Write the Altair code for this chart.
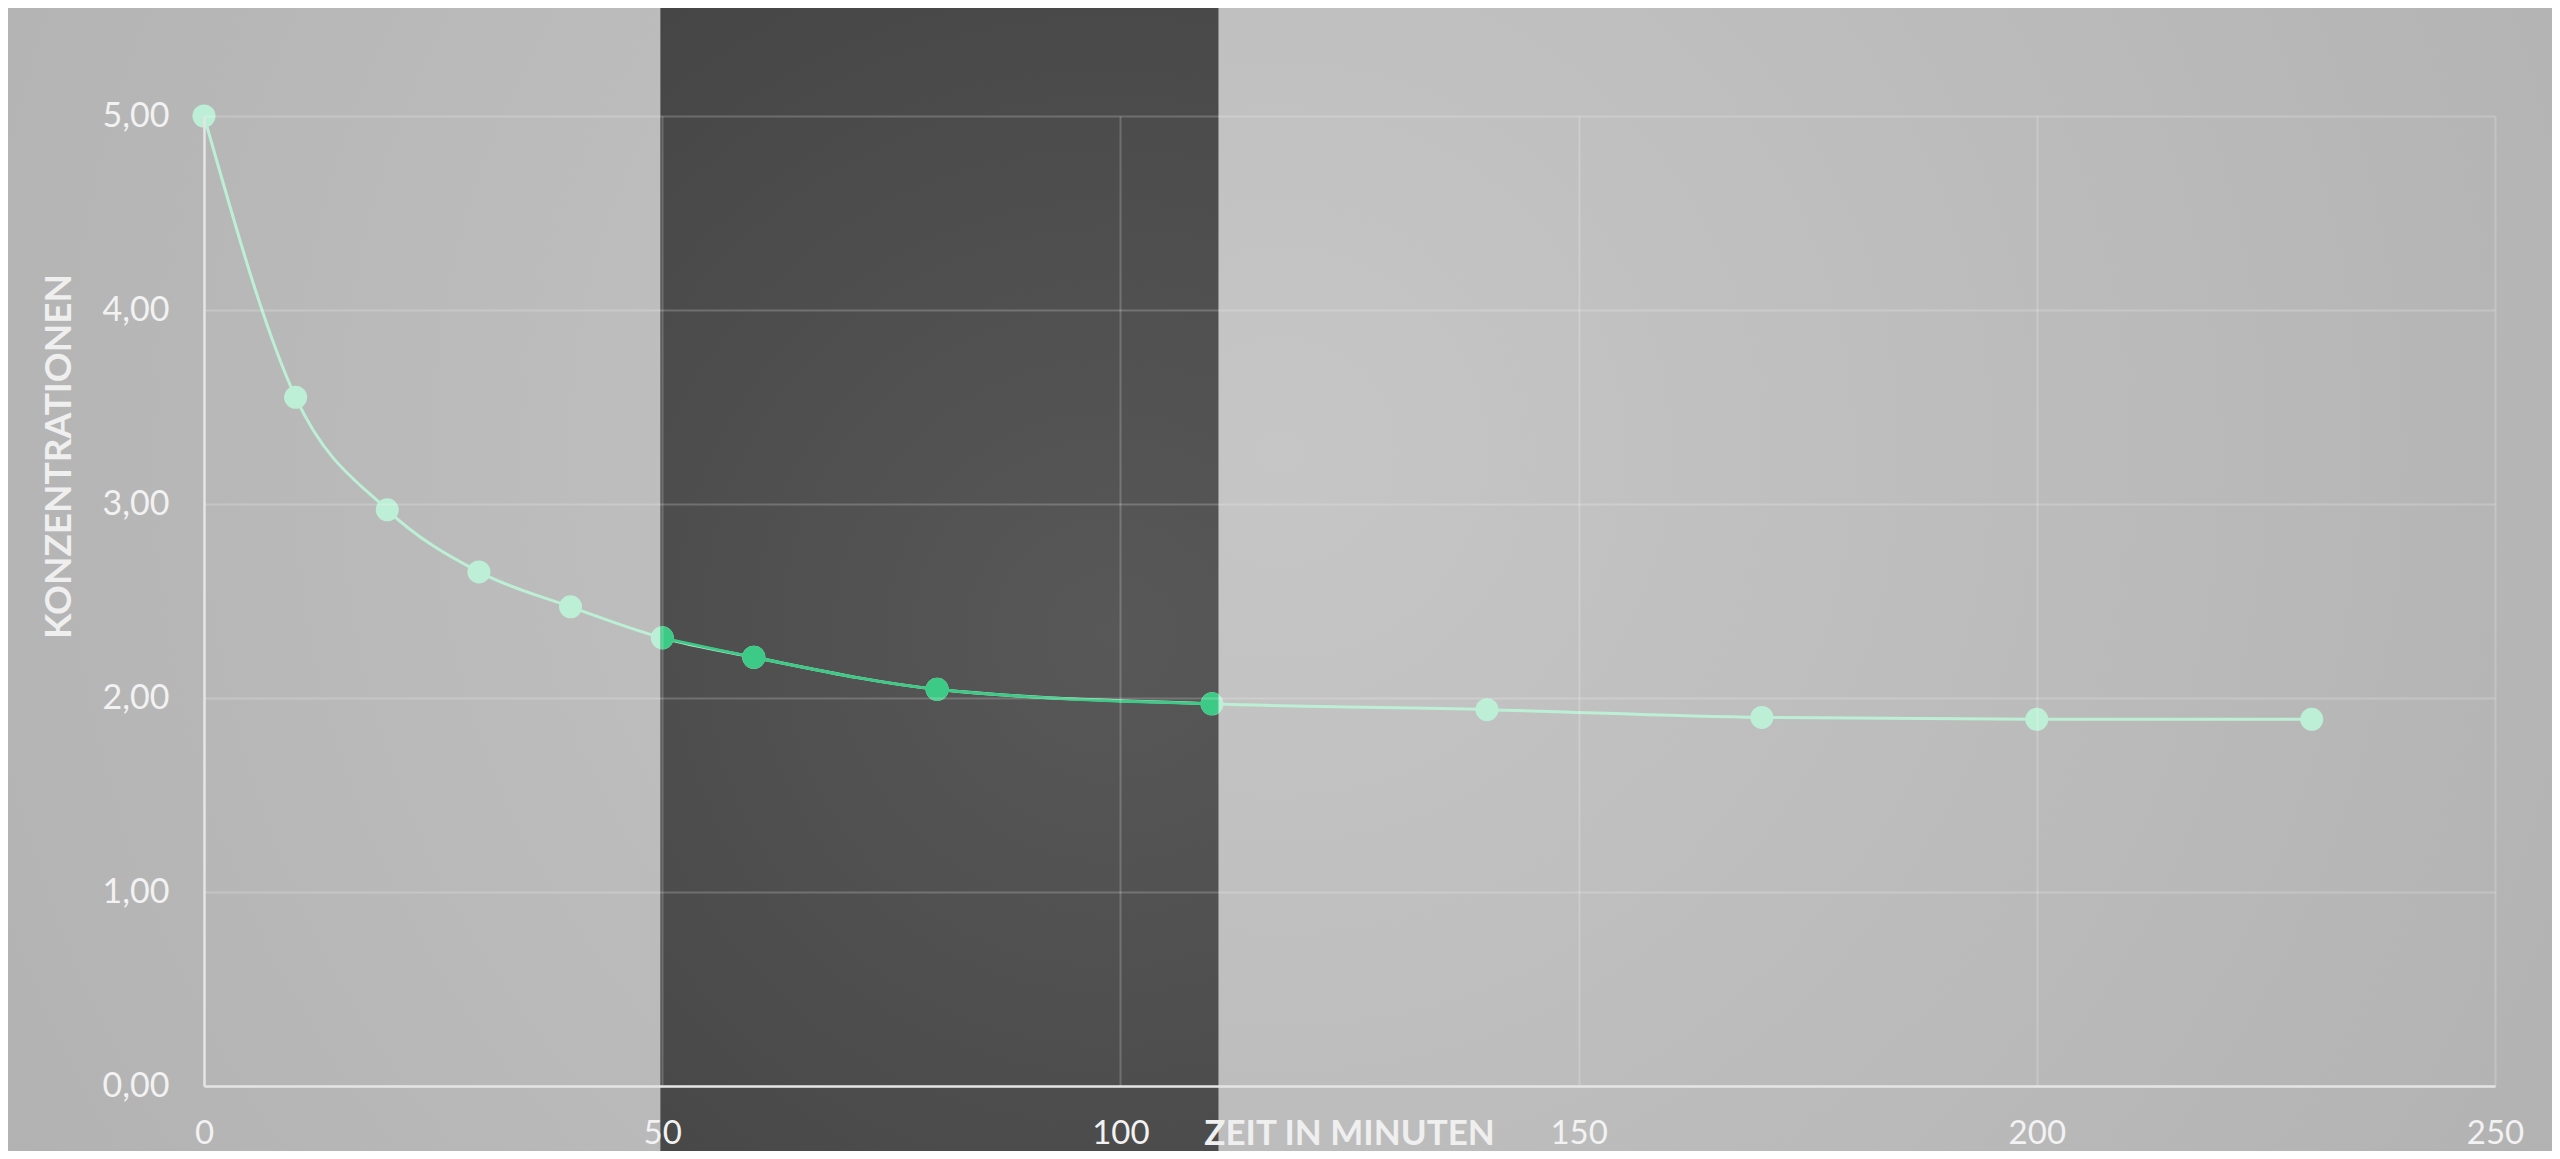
import altair as alt
import pandas as pd

# ---- data ----
times = [0, 10, 20, 30, 40, 50, 60, 80, 110, 140, 170, 200, 230]
conc = [5.00, 3.55, 2.97, 2.65, 2.47, 2.31, 2.21, 2.045, 1.97, 1.94, 1.90, 1.89, 1.89]
band_start, band_end = 49.8, 110.7
x_ticks = [0, 50, 100, 150, 200, 250]
y_ticks = [0, 1, 2, 3, 4, 5]
x_title = "ZEIT IN MINUTEN"
y_title = "KONZENTRATIONEN"

df = pd.DataFrame({"t": times, "c": conc})
band_df = pd.DataFrame({"t": [band_start], "t2": [band_end]})

W, H = 2291, 970
PL, PT, PR, PB = 196, 108, 57, 65

FONT = "Lato"
MINT = "#bdefd6"
GREEN = "#3dca86"

x_scale = alt.Scale(domain=[0, 250], nice=False, zero=False)
y_scale = alt.Scale(domain=[0, 5], nice=False)

x_axis = alt.Axis(
    values=x_ticks, title=x_title, format="d", labelFlush=False,
    titleX=1145, titleY=47, titleAlign="center", titleBaseline="middle",
    titleFontSize=35, titleFontWeight="bold", titleColor="#efefef", titleFont=FONT,
    labelFontSize=33, labelColor="#f2f2f2", labelFont=FONT, labelPadding=31,
    ticks=False, tickSize=0, domainColor="#e4e4e4", domainWidth=2.5,
    grid=True, gridColor="#ffffff", gridOpacity=0.2, gridWidth=2, zindex=1,
)
y_axis = alt.Axis(
    values=y_ticks, title=y_title, labelFlush=False,
    labelExpr="replace(format(datum.value, '.2f'), '.', ',')",
    titleX=-145, titleY=340, titleAngle=270, titleAlign="center", titleBaseline="middle",
    titleFontSize=37, titleFontWeight="bold", titleColor="#efefef", titleFont=FONT,
    labelFontSize=34, labelColor="#f2f2f2", labelFont=FONT, labelPadding=35,
    ticks=False, tickSize=0, domainColor="#e4e4e4", domainWidth=2.5,
    grid=True, gridColor="#ffffff", gridOpacity=0.2, gridWidth=2, zindex=1,
)

bg = alt.Chart(band_df).mark_rect(
    color={"gradient": "radial", "x1": 0.5, "y1": 0.45, "r1": 0,
           "x2": 0.5, "y2": 0.45, "r2": 0.75,
           "stops": [{"offset": 0, "color": "#c6c6c6"},
                     {"offset": 1, "color": "#acacac"}]}
).encode(
    x=alt.value(-PL), x2=alt.value(W + PR),
    y=alt.value(-PT), y2=alt.value(H + PB),
)

band = alt.Chart(band_df).mark_rect(
    color={"gradient": "radial", "x1": 0.65, "y1": 0.55, "r1": 0,
           "x2": 0.65, "y2": 0.55, "r2": 0.85,
           "stops": [{"offset": 0, "color": "#585858"},
                     {"offset": 1, "color": "#414141"}]}
).encode(
    x=alt.X("t:Q", scale=x_scale, axis=x_axis),
    x2="t2:Q",
    y=alt.value(-PT), y2=alt.value(H + PB),
)

line = alt.Chart(df).mark_line(
    color=MINT, strokeWidth=3, interpolate="monotone"
).encode(
    x=alt.X("t:Q", scale=x_scale, axis=x_axis),
    y=alt.Y("c:Q", scale=y_scale, axis=y_axis),
)

pts = alt.Chart(df).mark_point(
    filled=True, color=MINT, opacity=1, size=530, shape="circle"
).encode(
    x=alt.X("t:Q", scale=x_scale, axis=x_axis),
    y=alt.Y("c:Q", scale=y_scale, axis=y_axis),
)

inside = alt.Chart(df).transform_filter(
    (alt.datum.t >= band_start) & (alt.datum.t <= band_end)
)

line_in = inside.mark_line(
    color=GREEN, strokeWidth=3, interpolate="monotone"
).encode(
    x=alt.X("t:Q", scale=x_scale, axis=x_axis),
    y=alt.Y("c:Q", scale=y_scale, axis=y_axis),
)

pts_in = inside.transform_calculate(
    shp="datum.t == 50 ? 'M-0.16,-0.987A1,1,0,1,1,-0.16,0.987Z' : "
        "(datum.t == 110 ? 'M0.56,-0.83A1,1,0,1,0,0.56,0.83Z' : 'circle')"
).mark_point(
    filled=True, color=GREEN, opacity=1, size=530
).encode(
    x=alt.X("t:Q", scale=x_scale, axis=x_axis),
    y=alt.Y("c:Q", scale=y_scale, axis=y_axis),
    shape=alt.Shape("shp:N", scale=None),
)

chart = alt.layer(bg, band, line, pts, line_in, pts_in).properties(
    width=W, height=H,
    autosize=alt.AutoSizeParams(type="none"),
    padding={"left": PL, "top": PT, "right": PR, "bottom": PB},
    background="#b4b4b4",
).configure_view(stroke=None).configure(font=FONT)

chart.save("out.html", embed_options={"renderer": "svg", "actions": False})
